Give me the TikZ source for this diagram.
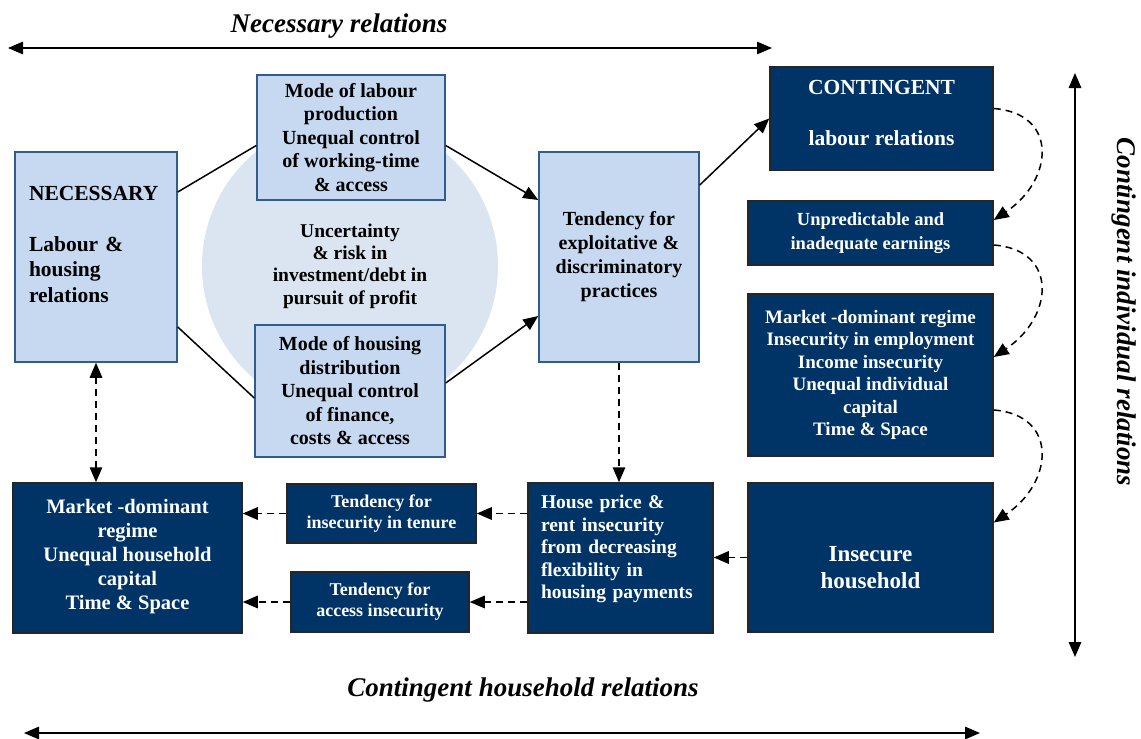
\documentclass[tikz,border=0pt]{standalone}
\usepackage{fontspec}
\setmainfont{Liberation Serif}
\usetikzlibrary{arrows.meta}
\definecolor{lightbox}{HTML}{C6D9F1}
\definecolor{circlefill}{HTML}{DBE5F1}
\definecolor{navy}{HTML}{003366}
\definecolor{boxline}{HTML}{2E5D8E}
\newcommand{\setsize}[2]{\fontsize{#1}{#2}\selectfont}

\begin{document}
\begin{tikzpicture}[x=1pt,y=-1pt,>={Triangle[length=15pt,width=12.5pt]},
  light/.style={draw=boxline,line width=1.5pt,fill=lightbox,inner sep=0pt,align=center,font=\bfseries\setsize{20}{23.5}},
  dark/.style={draw=black!85,line width=1.5pt,fill=navy,text=white,inner sep=0pt,align=center,font=\bfseries\setsize{19}{22.4}},
  heading/.style={font=\bfseries\itshape\setsize{27}{30}},
  link/.style={line width=1.5pt},
  dlink/.style={line width=1.5pt,dash pattern=on 7pt off 5pt}]

\useasboundingbox (0,0) rectangle (1141,739);

% background circle
\node (risk) [circle,fill=circlefill,minimum size=296,inner sep=0pt,align=center,font=\bfseries\setsize{19.5}{22.3}] at (350,266) {Uncertainty\\\& risk in\\investment/debt in\\pursuit of profit};

% necessary relations
\node (necessary) [light,minimum width=162,minimum height=210,text width=134,align=left,font=\bfseries\setsize{21.5}{25.5}] at (96,257) {NECESSARY\\[25.5pt]Labour \&\\housing\\relations\\~};
\node (labmode) [light,minimum width=188,minimum height=125] at (351,137.5) {Mode of labour\\production\\Unequal control\\of working-time\\\& access};
\node (housemode) [light,minimum width=190,minimum height=132] at (350,391) {Mode of housing\\distribution\\Unequal control\\of finance,\\costs \& access};
\node (tendency) [light,minimum width=160,minimum height=210,font=\bfseries\setsize{20}{24}] at (619,257) {Tendency for\\exploitative \&\\discriminatory\\practices};

% contingent individual relations
\node (contlab) [dark,minimum width=223,minimum height=103,font=\bfseries\setsize{21.5}{25}] at (881.5,118.5) {CONTINGENT\\[26pt]labour relations\\[-14pt]\mbox{}};
\node (earnings) [dark,minimum width=245,minimum height=64,font=\bfseries\setsize{18.5}{24}] at (870.5,233) {Unpredictable and\\inadequate earnings};
\node (indiv) [dark,minimum width=245,minimum height=162] at (870.5,375) {Market -dominant regime\\Insecurity in employment\\Income insecurity\\Unequal individual\\capital\\Time \& Space};
\node (insecure) [dark,minimum width=245,minimum height=149,font=\bfseries\setsize{23}{27}] at (870.5,557.5) {\mbox{}\\[9pt]Insecure\\household};

% contingent household relations
\node (price) [dark,minimum width=185,minimum height=150,text width=159,align=left,font=\bfseries\setsize{19.5}{22.5}] at (620.5,558) {House price \&\\rent insecurity\\from decreasing\\flexibility in\\housing payments\\~};
\node (tenure) [dark,minimum width=189,minimum height=59,font=\bfseries\setsize{18}{21}] at (381.5,513.5) {Tendency for\\insecurity in tenure};
\node (access) [dark,minimum width=178,minimum height=60,font=\bfseries\setsize{18}{21}] at (380,602) {Tendency for\\access insecurity};
\node (hhcap) [dark,minimum width=229,minimum height=150,font=\bfseries\setsize{20.5}{24}] at (127.5,558) {Market -dominant\\regime\\Unequal household\\capital\\Time \& Space\\[-16pt]\mbox{}};

% axis labels
\coordinate (nl) at (8,48);
\coordinate (nr) at (772,48);
\coordinate (cl) at (24,733);
\coordinate (cr) at (980,733);
\coordinate (it) at (1075,73);
\coordinate (ib) at (1075,657);
\node (necrel) [heading] at (339,26) {Necessary relations};
\node (hhrel) [heading] at (523,690) {Contingent household relations};
\node (indrel) [heading,rotate=-90] at (1124,312) {Contingent individual relations};
\draw[link,<->] (nl) -- (nr);
\draw[link,<->] (cl) -- (cr);
\draw[link,<->] (it) -- (ib);

% solid links
\draw[link] ([yshift=65pt]necessary.east) -- ([yshift=-8pt]labmode.west);
\draw[link] ([yshift=-70pt]necessary.east) -- ([yshift=-7pt]housemode.west);
\draw[link,->] ([yshift=-8pt]labmode.east) -- ([yshift=57pt]tendency.west);
\draw[link,->] ([yshift=8pt]housemode.east) -- ([yshift=-59pt]tendency.west);
\draw[link,->] ([yshift=72pt]tendency.east) -- (contlab.west);

% dashed links
\draw[dlink,<->] (necessary.south) -- (necessary.south |- hhcap.north);
\draw[dlink,->] (tendency.south) -- (tendency.south |- price.north);
\draw[dlink,->] (insecure.west) -- (insecure.west -| price.east);
\draw[dlink,->] (tenure.east -| price.west) -- (tenure.east);
\draw[dlink,->] (access.east -| price.west) -- (access.east);
\draw[dlink,->] (tenure.west) -- (tenure.west -| hhcap.east);
\draw[dlink,->] (access.west) -- (access.west -| hhcap.east);
\draw[dlink,->] ([yshift=10pt]contlab.east) .. controls +(65,5) and +(60,-40) .. ([yshift=13pt]earnings.east);
\draw[dlink,->] ([yshift=-12pt]earnings.east) .. controls +(65,5) and +(60,-40) .. ([yshift=18pt]indiv.east);
\draw[dlink,->] ([yshift=-35pt]indiv.east) .. controls +(65,5) and +(60,-40) .. ([yshift=35pt]insecure.east);

\end{tikzpicture}
\end{document}
